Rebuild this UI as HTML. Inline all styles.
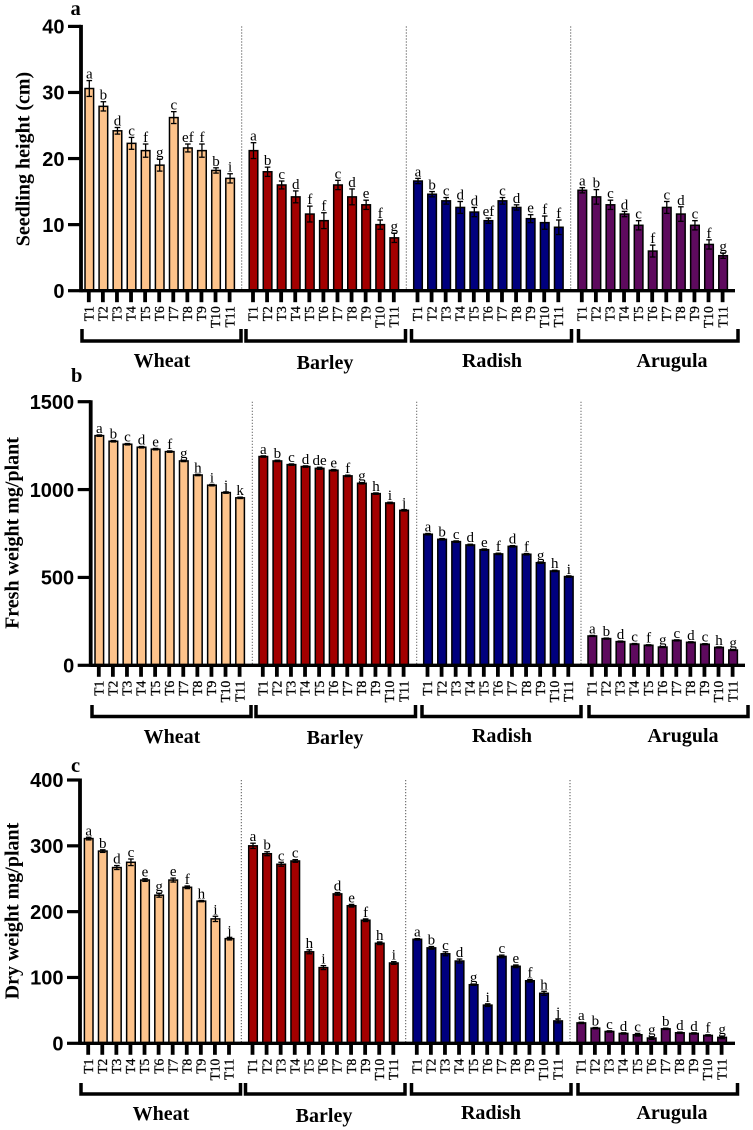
<!DOCTYPE html>
<html lang="en">
<head>
<meta charset="utf-8">
<title>Seedling height, fresh weight and dry weight</title>
<style>
html,body{margin:0;padding:0;background:#fff;}
svg{display:block;filter:blur(.3px);}
text{font-family:"Liberation Serif",serif;fill:#000;}
.num{font-family:"Liberation Sans",sans-serif;font-weight:bold;font-size:20px;}
.title{font-weight:bold;font-size:20px;}
.grp{font-weight:bold;font-size:20px;}
.pl{font-weight:bold;font-size:20.5px;}
.let{font-size:15px;}
.tl{font-size:13.5px;stroke:#000;stroke-width:.3px;}
</style>
</head>
<body>
<svg id="chart" xmlns="http://www.w3.org/2000/svg" width="753" height="1130" viewBox="0 0 753 1130">
  <rect x="0" y="0" width="753" height="1130" fill="#fff"/>

  <text class="pl" x="70.5" y="15">a</text>
  <text class="title" transform="translate(29.3,159) rotate(-90)" text-anchor="middle">Seedling height (cm)</text>
  <text class="grp" x="162" y="367" text-anchor="middle">Wheat</text>
  <text class="grp" x="325" y="369" text-anchor="middle">Barley</text>
  <text class="grp" x="492" y="367" text-anchor="middle">Radish</text>
  <text class="grp" x="672" y="367" text-anchor="middle">Arugula</text>

  <text class="pl" x="71" y="382">b</text>
  <text class="title" transform="translate(18.5,533) rotate(-90)" text-anchor="middle">Fresh weight mg/plant</text>
  <text class="grp" x="172" y="743" text-anchor="middle">Wheat</text>
  <text class="grp" x="335" y="744" text-anchor="middle">Barley</text>
  <text class="grp" x="502" y="742" text-anchor="middle">Radish</text>
  <text class="grp" x="683" y="742" text-anchor="middle">Arugula</text>

  <text class="pl" x="71" y="772">c</text>
  <text class="title" transform="translate(18.5,911) rotate(-90)" text-anchor="middle">Dry weight mg/plant</text>
  <text class="grp" x="161" y="1120" text-anchor="middle">Wheat</text>
  <text class="grp" x="324" y="1122" text-anchor="middle">Barley</text>
  <text class="grp" x="491" y="1119" text-anchor="middle">Radish</text>
  <text class="grp" x="672" y="1119" text-anchor="middle">Arugula</text>
</svg>

<script>
// ---- Categories ----
const treatments = ['T1','T2','T3','T4','T5','T6','T7','T8','T9','T10','T11'];
const crops = ['wheat','barley','radish','arugula'];

// ---- Tick labels ----
const heightTicks = [0,10,20,30,40];
const freshTicks = [0,500,1000,1500];
const dryTicks = [0,100,200,300,400];

// ---- Panel a: seedling height (cm) ----
const heightWheat = [30.6,27.9,24.2,22.3,21.2,19.0,26.2,21.6,21.2,18.2,17.0];
const heightWheatErr = [1.2,0.7,0.5,0.9,1.0,0.9,0.9,0.6,1.0,0.4,0.7];
const heightWheatLetters = ['a','b','d','c','f','g','c','ef','f','b','i'];
const heightBarley = [21.2,18.0,16.0,14.2,11.6,10.6,16.0,14.2,13.0,10.0,8.0];
const heightBarleyErr = [1.2,0.7,0.6,0.9,1.2,1.2,0.7,1.2,0.7,0.7,0.7];
const heightBarleyLetters = ['a','b','c','d','f','f','c','d','e','f','g'];
const heightRadish = [16.6,14.6,13.6,12.6,11.9,10.6,13.6,12.6,10.9,10.3,9.6];
const heightRadishErr = [0.4,0.4,0.5,0.9,0.7,0.4,0.5,0.4,0.6,1.0,1.1];
const heightRadishLetters = ['a','b','c','d','d','ef','c','d','e','f','f'];
const heightArugula = [15.2,14.2,13.0,11.6,9.9,6.0,12.6,11.6,9.9,7.0,5.3];
const heightArugulaErr = [0.4,1.1,0.7,0.4,0.7,0.9,0.9,1.1,0.7,0.7,0.4];
const heightArugulaLetters = ['a','b','c','d','c','f','c','d','c','f','g'];

// ---- Panel b: fresh weight (mg/plant) ----
const freshWheat = [1307,1275,1258,1241,1230,1216,1163,1083,1025,983,953];
const freshWheatErr = [4,4,4,4,4,4,4,4,4,4,4];
const freshWheatLetters = ['a','b','c','d','e','f','g','h','i','j','k'];
const freshBarley = [1188,1163,1142,1131,1121,1110,1078,1036,977,924,882];
const freshBarleyErr = [4,4,4,4,6,4,4,4,4,4,4];
const freshBarleyLetters = ['a','b','c','d','de','e','f','g','h','i','j'];
const freshRadish = [746,717,704,685,658,634,677,632,584,537,505];
const freshRadishErr = [4,4,4,4,4,4,4,4,4,4,4];
const freshRadishLetters = ['a','b','c','d','e','f','d','f','g','h','i'];
const freshArugula = [167,152,135,121,114,104,142,131,120,102,87];
const freshArugulaErr = [3,3,3,3,3,3,3,3,3,3,3];
const freshArugulaLetters = ['a','b','d','c','f','g','c','d','c','h','g'];

// ---- Panel c: dry weight (mg/plant) ----
const dryWheat = [311,292,267,275,248,225,248,237,216,189,159];
const dryWheatErr = [2,2,3,5,2,3,3,2,1,4,2];
const dryWheatLetters = ['a','b','d','c','e','g','e','f','h','i','j'];
const dryBarley = [300,288,272,277,139,115,227,209,187,152,122];
const dryBarleyErr = [4,3,3,2,3,3,2,2,2,2,2];
const dryBarleyLetters = ['a','b','c','c','h','i','d','e','f','h','i'];
const dryRadish = [158,145,136,125,89,58,132,117,95,76,34];
const dryRadishErr = [1,2,3,3,1,2,2,2,2,3,3];
const dryRadishLetters = ['a','b','c','d','g','i','c','e','f','h','j'];
const dryArugula = [31,23,18,15,13,8,22,16,15,12,9];
const dryArugulaErr = [1,1,1,1,2,2,1,1,1,1,2];
const dryArugulaLetters = ['a','b','c','d','c','g','b','d','d','f','g'];

// ---- Styling and layout ----
const cropFill = {wheat:'#FDC38B', barley:'#A30000', radish:'#00007E', arugula:'#5E0A5E'};
const SVGNS = 'http://www.w3.org/2000/svg';
const root = document.getElementById('chart');

function mk(tag, parent){
  const el = document.createElementNS(SVGNS, tag);
  parent.appendChild(el);
  return el;
}
function line(parent, x1, y1, x2, y2, w, color){
  const el = mk('line', parent);
  el.setAttribute('x1', x1);
  el.setAttribute('y1', y1);
  el.setAttribute('x2', x2);
  el.setAttribute('y2', y2);
  el.setAttribute('stroke', color || '#000');
  el.setAttribute('stroke-width', w);
  return el;
}

function drawPanel(p){
  const g = mk('g', root);
  
  

  const yScale = v => p.y0 - (v / p.max) * (p.y0 - p.yTop);
  const step = 14.08;
  const xScale = (c, i) => p.starts[c] + i * step;

  // dotted separators
  p.dividers.forEach(x => {
    const d = line(g, x, p.yTop, x, p.y0, 1, '#555');
    d.setAttribute('stroke-dasharray', '1.2 1.8');
    
    
  });

  // bars, error bars, letters, x ticks
  crops.forEach((crop, c) => {
    const vals = p.values[c], errs = p.errors[c], lets = p.letters[c];
    treatments.forEach((t, i) => {
      const x = xScale(c, i);
      const top = yScale(vals[i]);
      const bar = mk('rect', g);
      bar.setAttribute('x', x - 4.3);
      bar.setAttribute('y', top);
      bar.setAttribute('width', 8.6);
      bar.setAttribute('height', p.y0 - top);
      bar.setAttribute('fill', cropFill[crop]);
      bar.setAttribute('stroke', '#000');
      bar.setAttribute('stroke-width', 1.5);
      
      

      const et = yScale(vals[i] + errs[i]);
      const eb = yScale(vals[i] - errs[i]);
      const stem = line(g, x, et, x, eb, 1.3);
      
      
      const capT = line(g, x - 2.8, et, x + 2.8, et, 1.3);
      
      
      const capB = line(g, x - 2.8, eb, x + 2.8, eb, 1.3);
      
      

      const lab = mk('text', g);
      lab.setAttribute('class', 'let');
      lab.setAttribute('x', x);
      lab.setAttribute('y', et - 2);
      lab.setAttribute('text-anchor', 'middle');
      lab.textContent = lets[i];
      
      

      const tick = line(g, x - 0.5, p.y0, x - 0.5, p.y0 + 11.5, 3.8);
      
      

      const tl = mk('text', g);
      tl.setAttribute('class', 'tl');
      tl.setAttribute('transform', 'translate(' + (x + 4.2) + ',' + (p.y0 + 15.5) + ') rotate(-90)');
      tl.setAttribute('text-anchor', 'end');
      tl.textContent = t;
      
      
    });

    // group bracket
    const b = p.brackets[c];
    const br = mk('path', g);
    br.setAttribute('d', 'M' + b[0] + ' ' + p.brTop + 'V' + p.brBot + 'H' + b[1] + 'V' + p.brTop);
    br.setAttribute('fill', 'none');
    br.setAttribute('stroke', '#000');
    br.setAttribute('stroke-width', 3.5);
    
    
  });

  // axes
  const yAxis = line(g, p.axisX, p.yTop - 1.5, p.axisX, p.y0 + 1.5, 3.8);
  
  
  const xAxis = line(g, p.axisX, p.y0, p.xEnd, p.y0, 3.4);
  
  

  p.ticks.forEach(v => {
    const y = yScale(v);
    const t = line(g, p.axisX - 13, y, p.axisX, y, 3.2);
    
    
    const n = mk('text', g);
    n.setAttribute('class', 'num');
    n.setAttribute('x', p.axisX - 16.5);
    n.setAttribute('y', y + 7.2);
    n.setAttribute('text-anchor', 'end');
    n.textContent = v;
    
    
  });
}

drawPanel({
  id:'a', axisX:81, y0:290.7, yTop:26.4, max:40, xEnd:735, ticks:heightTicks,
  starts:[89.3,253.5,418,582.3],
  dividers:[241.7,406.3,570.7],
  brackets:[[82,241],[246,405.5],[411.5,571.5],[578.5,738]], brTop:329, brBot:341,
  values:[heightWheat,heightBarley,heightRadish,heightArugula],
  errors:[heightWheatErr,heightBarleyErr,heightRadishErr,heightArugulaErr],
  letters:[heightWheatLetters,heightBarleyLetters,heightRadishLetters,heightArugulaLetters]
});
drawPanel({
  id:'b', axisX:90.7, y0:665.3, yTop:401.7, max:1500, xEnd:745, ticks:freshTicks,
  starts:[99.3,263.3,428,592.3],
  dividers:[252.3,416.7,581],
  brackets:[[92,251],[256,415.5],[422,581],[589,748]], brTop:705, brBot:716.5,
  values:[freshWheat,freshBarley,freshRadish,freshArugula],
  errors:[freshWheatErr,freshBarleyErr,freshRadishErr,freshArugulaErr],
  letters:[freshWheatLetters,freshBarleyLetters,freshRadishLetters,freshArugulaLetters]
});
drawPanel({
  id:'c', axisX:80, y0:1043.3, yTop:780, max:400, xEnd:735, ticks:dryTicks,
  starts:[88.7,253,417.3,581.3],
  dividers:[241.3,405.7,570],
  brackets:[[81,240.5],[245.5,405],[411.5,571],[578,737.5]], brTop:1083, brBot:1094,
  values:[dryWheat,dryBarley,dryRadish,dryArugula],
  errors:[dryWheatErr,dryBarleyErr,dryRadishErr,dryArugulaErr],
  letters:[dryWheatLetters,dryBarleyLetters,dryRadishLetters,dryArugulaLetters]
});
</script>
</body>
</html>
